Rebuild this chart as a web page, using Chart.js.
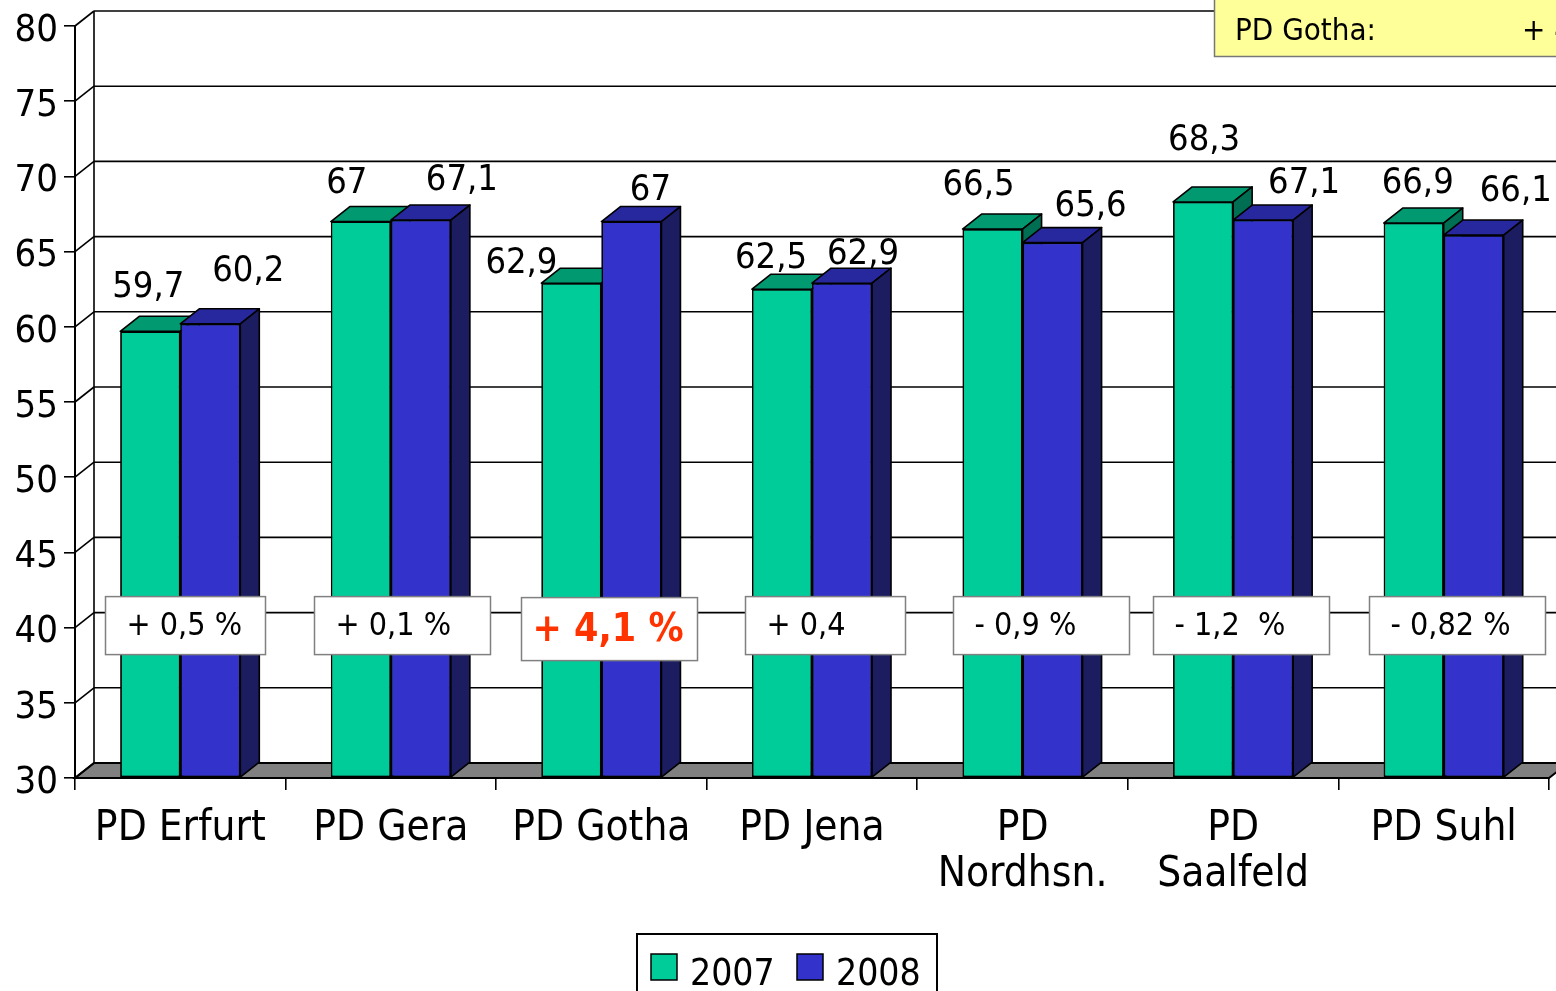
<!DOCTYPE html>
<html><head><meta charset="utf-8">
<script src="https://cdn.jsdelivr.net/npm/chart.js@4/dist/chart.umd.min.js"></script>
<style>html,body{margin:0;padding:0;background:#fff;overflow:hidden}canvas{display:block}</style>
</head><body>
<canvas id="c" width="1556" height="991"></canvas>
<script>
// ---- data ----
const categories = ['PD Erfurt', 'PD Gera', 'PD Gotha', 'PD Jena', ['PD', 'Nordhsn.'], ['PD', 'Saalfeld'], 'PD Suhl'];
const seriesNames = ['2007', '2008'];
const values2007 = [59.7, 67, 62.9, 62.5, 66.5, 68.3, 66.9];
const values2008 = [60.2, 67.1, 67, 62.9, 65.6, 67.1, 66.1];
const changeLabels = ['+ 0,5 %', '+ 0,1 %', '+ 4,1 %', '+ 0,4', '- 0,9 %', '- 1,2  %', '- 0,82 %'];
const yTicks = [30, 35, 40, 45, 50, 55, 60, 65, 70, 75, 80];
const noteTitle = 'PD Gotha:';
const noteValue = '+ 4,1 %';

// ---- styles ----
const FONT = '"DejaVu Sans Condensed", "DejaVu Sans", sans-serif';
const DX = 19, DY = 15;
const faces = [
  { front: '#00CC99', top: '#009970', side: '#006E52' },
  { front: '#3333CC', top: '#28289E', side: '#1C1C60' }
];
// label nudges (x from bar centre, y above bar front top)
const labelNudge = [
  [[-2, 44], [-14, 38], [-50, 20], [-11, 31], [-14, 43], [1, 61], [4, 39]],
  [[38, 52], [41, 39], [19, 31], [21, 29], [38, 36], [41, 36], [42, 43]]
];
const boxGeom = [
  { dx: -75, w: 160 }, { dx: -77, w: 176 }, { dx: -80, w: 176, hot: true }, { dx: -67, w: 160 },
  { dx: -70, w: 176 }, { dx: -80, w: 176 }, { dx: -75, w: 176 }
];

const fmt = v => String(v).replace('.', ',');

function drawFaces(ctx, bar, f, bottom) {
  const p = bar.getProps(['x', 'y', 'base', 'width'], true);
  const base = Math.min(p.base, bottom);
  const l = p.x - p.width / 2, r = p.x + p.width / 2;
  ctx.beginPath();
  ctx.moveTo(l, p.y); ctx.lineTo(r, p.y); ctx.lineTo(r + DX, p.y - DY); ctx.lineTo(l + DX, p.y - DY);
  ctx.closePath(); ctx.fillStyle = f.top; ctx.fill(); ctx.stroke();
  ctx.beginPath();
  ctx.moveTo(r, p.y); ctx.lineTo(r + DX, p.y - DY); ctx.lineTo(r + DX, base - DY); ctx.lineTo(r, base);
  ctx.closePath(); ctx.fillStyle = f.side; ctx.fill(); ctx.stroke();
}

const depth3d = {
  id: 'depth3d',
  beforeDatasetsDraw(chart) {
    const ctx = chart.ctx, y = chart.scales.y, a = chart.chartArea;
    const yb = y.getPixelForValue(yTicks[0]);
    const yt = y.getPixelForValue(yTicks[yTicks.length - 1]);
    ctx.save();
    // floor
    ctx.beginPath();
    ctx.moveTo(a.left, yb); ctx.lineTo(a.right, yb);
    ctx.lineTo(a.right + DX, yb - DY); ctx.lineTo(a.left + DX, yb - DY);
    ctx.closePath();
    ctx.fillStyle = '#808080'; ctx.fill();
    ctx.lineWidth = 2; ctx.strokeStyle = '#000'; ctx.stroke();
    // back wall gridlines + side wall diagonals
    ctx.lineWidth = 1.6;
    yTicks.forEach(t => {
      const py = y.getPixelForValue(t);
      ctx.beginPath();
      ctx.moveTo(a.left + DX, py - DY); ctx.lineTo(a.right + DX + 10, py - DY);
      ctx.stroke();
      ctx.beginPath();
      ctx.moveTo(a.left, py); ctx.lineTo(a.left + DX, py - DY);
      ctx.stroke();
    });
    ctx.beginPath();
    ctx.moveTo(a.left + DX, yt - DY); ctx.lineTo(a.left + DX, yb - DY);
    ctx.stroke();
    ctx.restore();
  },
  afterDatasetsDraw(chart) {
    // redraw bars category by category so that depth faces stack correctly
    const ctx = chart.ctx;
    const bottom = chart.chartArea.bottom;
    const metas = [chart.getDatasetMeta(0), chart.getDatasetMeta(1)];
    const n = metas[0].data.length;
    for (let i = 0; i < n; i++) {
      metas.forEach((meta, di) => {
        const bar = meta.data[i];
        bar.draw(ctx);
        ctx.save();
        ctx.lineWidth = 1.6; ctx.strokeStyle = '#000'; ctx.lineJoin = 'round';
        drawFaces(ctx, bar, faces[di], bottom);
        ctx.restore();
      });
    }
  },
  afterDraw(chart) {
    const ctx = chart.ctx, y = chart.scales.y, x = chart.scales.x;
    ctx.save();
    // value labels
    ctx.fillStyle = '#000'; ctx.font = '36px ' + FONT;
    ctx.textAlign = 'center'; ctx.textBaseline = 'middle';
    [0, 1].forEach(di => {
      const meta = chart.getDatasetMeta(di);
      meta.data.forEach((bar, i) => {
        const n = labelNudge[di][i];
        ctx.fillText(fmt(chart.data.datasets[di].data[i]), bar.x + n[0], bar.y - n[1]);
      });
    });
    // change boxes
    const cy = y.getPixelForValue(40) - 2;
    changeLabels.forEach((txt, i) => {
      const g = boxGeom[i];
      const cx = x.getPixelForValue(i);
      const h = g.hot ? 63 : 58;
      const top = g.hot ? cy - 28 : cy - 29;
      const left = Math.round(cx + g.dx) + 0.5;
      ctx.fillStyle = '#fff'; ctx.fillRect(left, top, g.w, h);
      ctx.strokeStyle = '#808080'; ctx.lineWidth = 1.5; ctx.strokeRect(left, top, g.w, h);
      ctx.textAlign = 'left'; ctx.textBaseline = 'middle';
      if (g.hot) {
        ctx.fillStyle = '#FF3300'; ctx.font = 'bold 39px ' + FONT;
        ctx.fillText(txt, left + 11, top + h / 2 + 2);
      } else {
        ctx.fillStyle = '#000'; ctx.font = '32px ' + FONT;
        ctx.fillText(txt, left + 21, top + h / 2 + 1);
      }
    });
    // yellow note
    ctx.fillStyle = '#FFFF99'; ctx.fillRect(1214.5, -2, 360, 58.5);
    ctx.strokeStyle = '#777'; ctx.lineWidth = 1.5; ctx.strokeRect(1214.5, -2, 360, 58.5);
    ctx.fillStyle = '#000'; ctx.font = '31px ' + FONT; ctx.textAlign = 'left'; ctx.textBaseline = 'alphabetic';
    ctx.fillText(noteTitle, 1235, 40);
    ctx.fillText(noteValue, 1522, 40);
    // legend
    ctx.strokeStyle = '#000'; ctx.lineWidth = 2;
    ctx.strokeRect(637, 934, 300, 80);
    const items = [{ x: 651, t: 690 }, { x: 797, t: 836 }];
    items.forEach((it, i) => {
      ctx.fillStyle = faces[i].front; ctx.fillRect(it.x, 954, 26, 26);
      ctx.strokeStyle = '#000'; ctx.lineWidth = 1.5; ctx.strokeRect(it.x, 954, 26, 26);
      ctx.fillStyle = '#000'; ctx.font = '37px ' + FONT; ctx.textBaseline = 'alphabetic';
      ctx.fillText(seriesNames[i], it.t, 985);
    });
    ctx.restore();
  }
};

new Chart(document.getElementById('c'), {
  type: 'bar',
  data: {
    labels: categories,
    datasets: [
      { label: seriesNames[0], data: values2007, base: 30, backgroundColor: faces[0].front, borderColor: '#000', borderWidth: 1.6, borderSkipped: false },
      { label: seriesNames[1], data: values2008, base: 30, backgroundColor: faces[1].front, borderColor: '#000', borderWidth: 1.6, borderSkipped: false }
    ]
  },
  options: {
    responsive: false,
    animation: false,
    events: [],
    datasets: { bar: { barPercentage: 1, categoryPercentage: 0.57 } },
    layout: { padding: { top: 26, right: 7, left: 0, bottom: 0 } },
    plugins: { legend: { display: false }, tooltip: { enabled: false } },
    scales: {
      x: {
        afterFit: s => { s.height = 213; },
        grid: { offset: true, drawOnChartArea: false, drawTicks: true, tickLength: 12, color: '#000', lineWidth: 1.6 },
        border: { display: true, color: '#000', width: 2 },
        ticks: { color: '#000', font: { family: FONT, size: 42, lineHeight: 1.1 }, padding: 16, maxRotation: 0, autoSkip: false }
      },
      y: {
        min: 30, max: 80,
        afterFit: s => { s.width = 75; s.paddingTop = 0; s.paddingBottom = 0; },
        afterBuildTicks: s => { s.ticks = yTicks.map(v => ({ value: v })); },
        grid: { drawOnChartArea: false, drawTicks: true, tickLength: 11, color: '#000', lineWidth: 1.6 },
        border: { display: true, color: '#000', width: 2 },
        ticks: { color: '#000', font: { family: FONT, size: 38, lineHeight: 1 }, padding: 6, labelOffset: 5 }
      }
    }
  },
  plugins: [depth3d]
});
</script>
</body></html>
